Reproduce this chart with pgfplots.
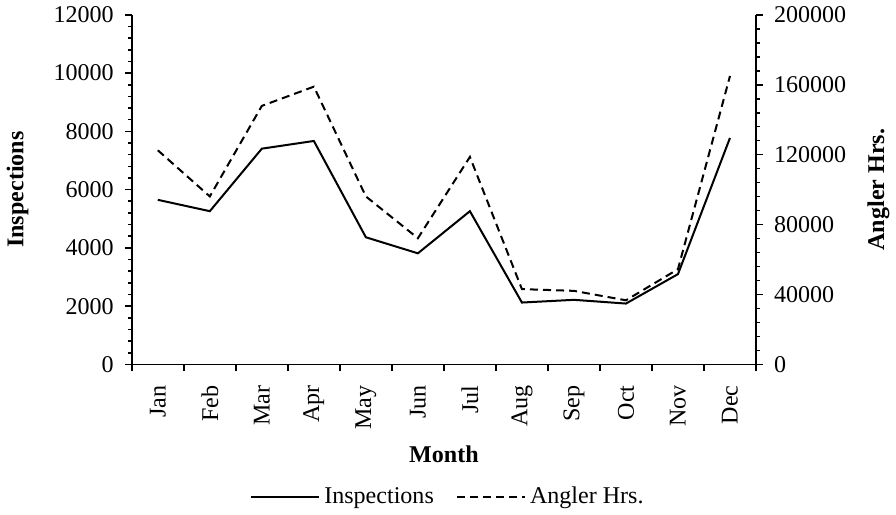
\documentclass[border=0pt]{standalone}
\usepackage{pgfplots}
\pgfplotsset{compat=1.18}
\usepackage{fontspec}
\setmainfont{Liberation Serif}

\pgfplotstableread{
x insp angler
0  5650 122500
1  5260 96100
2  7406 147900
3  7670 158900
4  4365 96100
5  3814 72200
6  5260 118700
7  2125 43100
8  2218 42100
9  2090 36700
10 3100 54500
11 7775 165000
}\datatable

\begin{document}
\begin{tikzpicture}
\pgfplotsset{
  every axis/.append style={
    width=311.5pt, height=174.5pt, scale only axis,
    xmin=-0.5, xmax=11.5,
    axis line style={line width=0.8pt},
    tick align=outside,
    major tick length=3.5pt, minor tick length=2pt,
    every tick/.style={black, line width=0.8pt},
    /pgf/number format/assume math mode=true,
    /pgf/number format/1000 sep={},
    tick label style={font=\fontsize{12}{14}\selectfont},
    label style={font=\fontsize{12}{14}\selectfont\bfseries},
  }
}
\begin{axis}[
  axis y line*=left, axis x line*=bottom,
  ymin=0, ymax=12000,
  ytick={0,2000,...,12000},
  minor y tick num=4,
  scaled y ticks=false,
  yticklabel style={xshift=-2pt},
  xtick={-0.5,0.5,...,11.5},
  xticklabels={},
  extra x ticks={0,1,2,3,4,5,6,7,8,9,10,11},
  extra x tick labels={Jan,Feb,Mar,Apr,May,Jun,Jul,Aug,Sep,Oct,Nov,Dec},
  extra x tick style={major tick length=0pt, xticklabel style={rotate=90, anchor=east, xshift=-7pt, font=\fontsize{12}{14}\selectfont}},
  ylabel={Inspections},
  ylabel style={at={(axis description cs:-0.183,0.5)}, anchor=center},
  xlabel={Month},
  xlabel style={at={(axis description cs:0.5,-0.258)}, anchor=center},
]
\addplot[black, line width=1pt, no markers] table[x=x, y=insp] {\datatable};
\end{axis}
\begin{axis}[
  axis y line*=right, axis x line=none,
  ymin=0, ymax=200000,
  ytick={0,40000,...,200000},
  minor y tick num=4,
  scaled y ticks=false,
  yticklabel style={/pgf/number format/fixed, xshift=2pt},
  ylabel={Angler Hrs.},
  ylabel style={at={(axis description cs:1.196,0.5)}, anchor=center},
  legend style={at={(axis description cs:0.508,-0.378)}, anchor=center, draw=none, fill=none,
    legend columns=2, font=\fontsize{12}{14}\selectfont,
    /tikz/every even column/.append style={column sep=9pt}},
  legend image code/.code={\draw[#1] (0pt,0pt) -- (34pt,0pt);},
]
\addlegendimage{black, line width=1pt}
\addlegendentry{Inspections}
\addplot[black, line width=1pt, dash pattern=on 4pt off 2.5pt, no markers] table[x=x, y=angler] {\datatable};
\addlegendentry{Angler Hrs.}
\end{axis}
\end{tikzpicture}
\end{document}
